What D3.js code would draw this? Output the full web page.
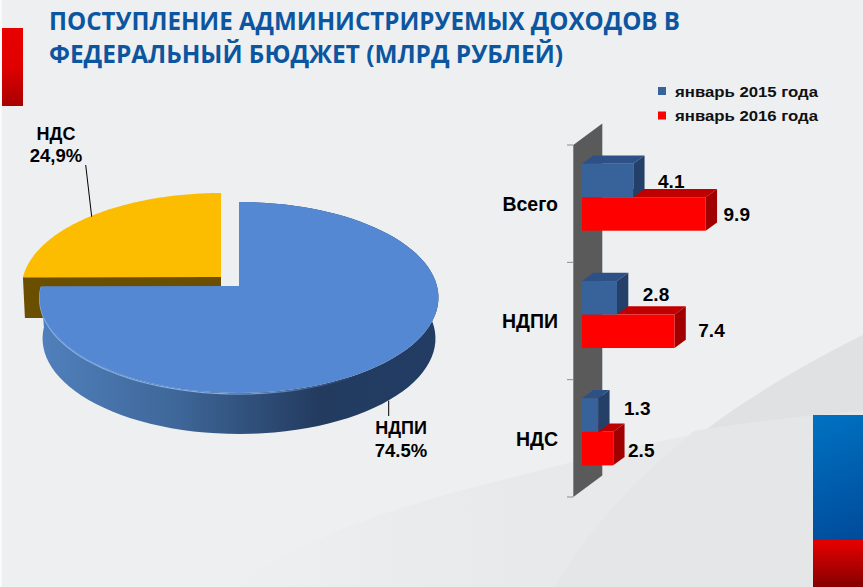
<!DOCTYPE html>
<html>
<head>
<meta charset="utf-8">
<script src="https://cdn.jsdelivr.net/npm/d3@7"></script>
<style>
  html, body { margin: 0; padding: 0; background: #eeeff1; overflow: hidden; }
  svg { display: block; }
  text { font-family: "Liberation Sans", Arial, sans-serif; fill: #000; }
</style>
</head>
<body>
<svg id="chart" width="863" height="587"></svg>
<script>
// pie data
const pieNames = ["НДПИ", "НДС"];
const pieValues = [74.5, 24.9];
const pieLabels = ["74.5%", "24,9%"];

// bar data
const categories = ["Всего", "НДПИ", "НДС"];
const seriesNames = ["январь 2015 года", "январь 2016 года"];
const jan2015 = [4.1, 2.8, 1.3];
const jan2016 = [9.9, 7.4, 2.5];

const svg = d3.select("#chart");
const defs = svg.append("defs");

function gradient(id, x1, y1, x2, y2, stops) {
  const g = defs.append("linearGradient").attr("id", id)
    .attr("gradientUnits", "userSpaceOnUse")
    .attr("x1", x1).attr("y1", y1).attr("x2", x2).attr("y2", y2);
  stops.forEach(s => g.append("stop").attr("offset", s[0]).attr("stop-color", s[1]));
}

gradient("wallBlue", 40, 0, 438, 0, [[0, "#5080bc"], [0.35, "#3e6698"], [0.7, "#233b5f"], [1, "#223c64"]]);
gradient("rimFade", 40, 0, 345, 0, [[0, "#86aee0"], [0.65, "#86aee0"], [1, "#2b4670"]]);
gradient("sideRed", 0, 28, 0, 106, [[0, "#e80000"], [0.5, "#e00000"], [1, "#a80000"]]);
gradient("cornerBlue", 813, 415, 863, 540, [[0, "#0072c2"], [1, "#004b9a"]]);
gradient("cornerRed", 0, 540, 0, 587, [[0, "#e80000"], [1, "#860000"]]);
gradient("swoosh", 230, 0, 520, 0, [[0, "#eeeff1"], [1, "#e8e9eb"]]);

// background swooshes
svg.append("path")
  .attr("d", "M230,587 C310,535 400,505 490,483 C590,458 700,425 863,411 L863,587 Z")
  .attr("fill", "url(#swoosh)");
svg.append("path")
  .attr("d", "M555,587 C600,510 700,415 863,335 L863,587 Z")
  .attr("fill", "#e0e1e3");
svg.append("path")
  .attr("d", "M555,587 C590,525 640,475 694,431 C750,422 810,415 863,411 L863,587 Z")
  .attr("fill", "#e5e6e8");
svg.append("rect").attr("x", 0).attr("y", 0).attr("width", 2).attr("height", 587).attr("fill", "#fafafa");

// corner block and side mark
svg.append("rect").attr("x", 813).attr("y", 415).attr("width", 50).attr("height", 125).attr("fill", "url(#cornerBlue)");
svg.append("rect").attr("x", 813).attr("y", 540).attr("width", 50).attr("height", 47).attr("fill", "url(#cornerRed)");
svg.append("rect").attr("x", 2).attr("y", 28).attr("width", 21).attr("height", 78).attr("fill", "url(#sideRed)");

// title
const titleLines = ["ПОСТУПЛЕНИЕ АДМИНИСТРИРУЕМЫХ ДОХОДОВ В", "ФЕДЕРАЛЬНЫЙ БЮДЖЕТ (МЛРД РУБЛЕЙ)"];
const titleWidths = [631, 514];
svg.selectAll("text.title").data(titleLines).enter().append("text")
  .attr("class", "title")
  .attr("x", 49)
  .attr("y", (d, i) => i == 0 ? 29.5 : 63)
  .attr("textLength", (d, i) => titleWidths[i])
  .attr("lengthAdjust", "spacingAndGlyphs")
  .style("font-family", "'Open Sans'")
  .style("font-weight", 700)
  .style("font-size", "24.5px")
  .style("fill", "#0c559f")
  .text(d => d);

// ---- 3D pie ----
const slices = d3.pie().sort(null).startAngle(0).endAngle(2 * Math.PI)(pieValues);
const depth = 41;

// circle seen in perspective: near edge comes out bigger than far edge
function project(a, ox, oy) {
  const u = Math.sin(a), v = Math.cos(a), w = 1 + 0.1205 * v;
  return [ox + 198 * u / w, oy - 94.1 * v / w];
}

function rim(a0, a1, ox, oy) {
  const n = 90;
  return d3.range(n + 1).map(i => project(a0 + (a1 - a0) * i / n, ox, oy));
}

const outline = d3.line();
const blue = slices[0], yellow = slices[1];
const bx = 239, by = 286, yx = 221, yy = 277;

// brown cut face of the pulled out slice, blue covers most of it
const yl = project(yellow.startAngle, yx, yy);
svg.append("path")
  .attr("d", outline([[yl[0], yl[1]], [yx, yy], [yx, yy + depth], [yl[0] + 2, yy + depth]]) + "Z")
  .attr("fill", "#6b4f00");
svg.append("path")
  .attr("d", outline(rim(yellow.startAngle, yellow.endAngle, yx, yy).concat([[yx, yy]])) + "Z")
  .attr("fill", "#fcbc00");

// blue outer wall
const wallTop = rim(blue.startAngle, blue.endAngle, bx, by);
const wallBottom = wallTop.map(p => [bx + (p[0] - bx) * 0.985, p[1] + depth]).reverse();
svg.append("path")
  .attr("d", outline(wallTop.concat(wallBottom)) + "Z")
  .attr("fill", "url(#wallBlue)");

// blue top face with a light rim on the lit side
svg.append("path")
  .attr("d", outline(wallTop.slice(50).map(p => [p[0], p[1] + 1])))
  .attr("fill", "none").attr("stroke", "url(#rimFade)").attr("stroke-width", 1.2);
svg.append("path")
  .attr("d", outline(wallTop.concat([[bx, by]])) + "Z")
  .attr("fill", "#5588d2");

// leader lines
svg.append("line").attr("x1", 85.7).attr("y1", 165).attr("x2", 91.7).attr("y2", 216.7)
  .attr("stroke", "#000").attr("stroke-width", 1);
svg.append("line").attr("x1", 388.7).attr("y1", 400.7).attr("x2", 388.7).attr("y2", 416)
  .attr("stroke", "#000").attr("stroke-width", 1);

const pieLabelPos = [[401, 434, 456.7], [56, 140, 162]];
pieNames.forEach((name, i) => {
  const p = pieLabelPos[i];
  svg.append("text").attr("x", p[0]).attr("y", p[1]).attr("text-anchor", "middle")
    .style("font-size", "18px").style("font-weight", 700).text(name);
  svg.append("text").attr("x", p[0]).attr("y", p[2]).attr("text-anchor", "middle")
    .style("font-size", "18.5px").style("font-weight", 700).text(pieLabels[i]);
});

// ---- 3D bars ----
const x = d3.scaleLinear().domain([0, 10]).range([582, 707]);
const y = d3.scaleBand().domain(categories).range([145, 497]);
const inner = d3.scaleBand().domain(seriesNames).range([18.7, 85.7]);
const dx = 11.3, dy = -8.3;      // depth of the boxes and of the back wall
const wallDx = 29, wallDy = -21.5;

svg.append("path")
  .attr("d", outline([[573.3, y.range()[0]], [573.3 + wallDx, y.range()[0] + wallDy],
    [573.3 + wallDx, y.range()[1] + wallDy], [573.3, y.range()[1]]]) + "Z")
  .attr("fill", "#5a5a5a");

// tick marks sit between the categories
const tickYs = categories.map(c => y(c)).concat([y.range()[1]]);
svg.selectAll("line.tick").data(tickYs).enter().append("line")
  .attr("class", "tick")
  .attr("x1", 567).attr("x2", 573.3).attr("y1", d => d).attr("y2", d => d)
  .attr("stroke", "#8c8c8c").attr("stroke-width", 1);

// category labels
const axis = svg.append("g").attr("transform", "translate(574,1)")
  .call(d3.axisLeft(y).tickSize(0).tickPadding(16));
axis.select(".domain").remove();
axis.selectAll("text")
  .style("font-family", "'Liberation Sans'")
  .style("font-size", "19.5px")
  .style("font-weight", 700)
  .style("fill", "#000");

const seriesValues = [jan2015, jan2016];
const seriesFaces = [
  { front: "#38629a", top: "#2d5186", side: "#243f68" },
  { front: "#ff0000", top: "#c00000", side: "#a00000" }
];
// label nudges, one per bar
const nudgeX = [[38, 39, 39], [31, 37, 28]];
const nudgeY = [[24.5, 20.3, 17], [24, 22.4, 25]];

// labels first: the red box covers the foot of 4.1
seriesNames.forEach((s, k) => {
  svg.selectAll("text.val" + k).data(seriesValues[k]).enter().append("text")
    .attr("class", "val" + k)
    .attr("x", (d, i) => x(d) + nudgeX[k][i])
    .attr("y", (d, i) => y(categories[i]) + inner(s) + nudgeY[k][i])
    .attr("text-anchor", "middle")
    .style("font-size", "19px")
    .style("font-weight", 700)
    .text(d => d.toFixed(1));
});

// red before blue so the blue box stays in front
[1, 0].forEach(k => {
  const s = seriesNames[k], f = seriesFaces[k], h = inner.bandwidth();
  const g = svg.selectAll("g.bar" + k).data(seriesValues[k]).enter().append("g")
    .attr("class", "bar" + k)
    .attr("transform", (d, i) => `translate(0,${y(categories[i]) + inner(s)})`);
  g.append("path").attr("fill", f.top)
    .attr("d", d => outline([[x(0), 0], [x(d), 0], [x(d) + dx, dy], [x(0) + dx, dy]]) + "Z");
  g.append("path").attr("fill", f.side)
    .attr("d", d => outline([[x(d), 0], [x(d) + dx, dy], [x(d) + dx, h + dy], [x(d), h]]) + "Z");
  g.append("rect").attr("fill", f.front)
    .attr("x", x(0)).attr("y", 0).attr("height", h)
    .attr("width", d => x(d) - x(0));
});

// legend
const legend = svg.selectAll("g.legend").data(seriesNames).enter().append("g")
  .attr("class", "legend")
  .attr("transform", (d, i) => `translate(658,${i == 0 ? 87 : 111.5})`);
legend.append("rect").attr("width", 8).attr("height", 8)
  .attr("fill", (d, i) => seriesFaces[i].front);
legend.append("text").attr("x", 17).attr("y", 9.5)
  .attr("textLength", 143)
  .attr("lengthAdjust", "spacingAndGlyphs")
  .style("font-size", "15.5px").style("font-weight", 700)
  .style("fill", "#111")
  .text(d => d);
</script>
</body>
</html>
